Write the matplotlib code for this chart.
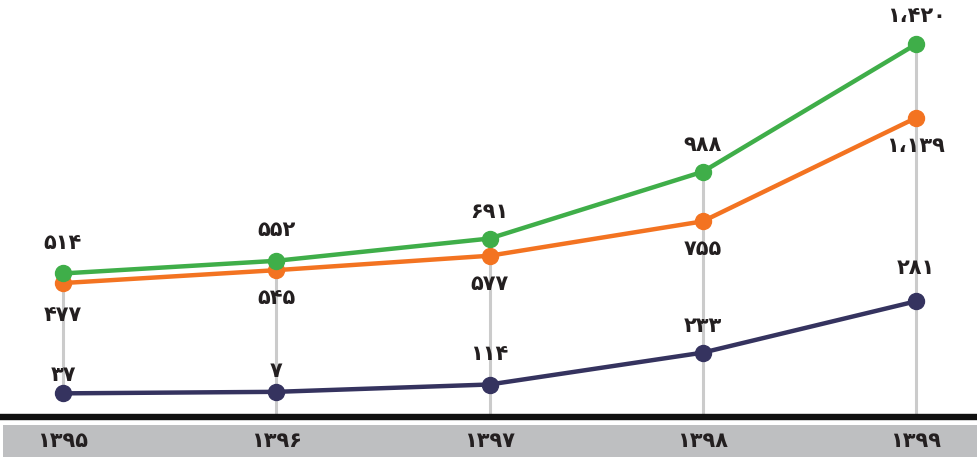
import matplotlib
matplotlib.use("Agg")
import matplotlib.pyplot as plt
from matplotlib.patches import Rectangle

# ---- data ----
years = ["1395", "1396", "1397", "1398", "1399"]
# values as printed on the chart
green_labels = [514, 552, 691, 988, 1420]
orange_labels = [477, 545, 577, 755, 1139]
navy_labels = [37, 7, 114, 233, 281]
# point heights as drawn in the chart (value units)
green_vals = [514, 564, 652, 916, 1420]
orange_vals = [476, 527, 584, 720, 1129]
navy_vals = [40, 46, 75, 201, 404]

FA = str.maketrans("0123456789", "۰۱۲۳۴۵۶۷۸۹")


def fa(n):
    s = f"{n:,}".replace(",", "\u060C")
    return s.translate(FA)


GREEN = "#3fae49"
ORANGE = "#f37321"
NAVY = "#35335f"
VGRAY = "#cbcbcb"
TXT = "#231f20"

fig = plt.figure(figsize=(9.77, 4.57), dpi=100)
ax = fig.add_axes([0, 0, 1, 1])
ax.set_xlim(-0.2954, 4.286)
ax.set_ylim(-211.6, 1595)
ax.axis("off")

x = list(range(len(years)))
AXIS_V = -52

# label offsets (points) for readability, mimicking the reference layout
green_off = [22, 22, 19, 19, 20]
orange_off = [-23, -20, -20, -20, -20]
navy_off = [13.5, 15, 22, 19, 24]

# vertical guide lines
for i in x:
    bottom = navy_vals[i] if i == 0 else AXIS_V
    ax.plot([i, i], [bottom, green_vals[i]], color=VGRAY, lw=2.2, zorder=1,
            solid_capstyle="butt")

for vals, col in [(navy_vals, NAVY), (orange_vals, ORANGE), (green_vals, GREEN)]:
    ax.plot(x, vals, color=col, lw=3.2, marker="o", ms=11.5, zorder=3,
            solid_capstyle="round")

font = dict(family=["DejaVu Sans"], fontweight="bold", fontsize=15, color=TXT)

for i in x:
    ax.annotate(fa(green_labels[i]), (i, green_vals[i]), xytext=(0, green_off[i]),
                textcoords="offset points", ha="center", va="center", **font)
    ax.annotate(fa(orange_labels[i]), (i, orange_vals[i]), xytext=(0, orange_off[i]),
                textcoords="offset points", ha="center", va="center", **font)
    ax.annotate(fa(navy_labels[i]), (i, navy_vals[i]), xytext=(0, navy_off[i]),
                textcoords="offset points", ha="center", va="center", **font)

# baseline and band
ax.axhline(AXIS_V, xmin=0.003, xmax=1, color="#111111", lw=4.6, zorder=2)
ax.add_patch(Rectangle((0.003, 0), 0.997, 0.07, transform=ax.transAxes,
                       facecolor="#bebfc1", edgecolor="none", zorder=1))
for i in x:
    ax.text(i, 0.035, years[i].translate(FA), transform=ax.get_xaxis_transform(),
            ha="center", va="center", **font)

fig.savefig("out.png", dpi=100)
